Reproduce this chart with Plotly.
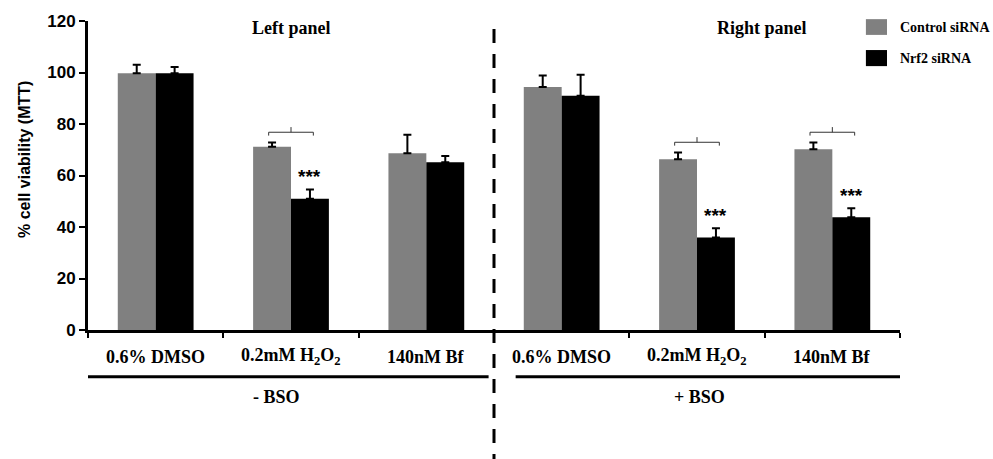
import plotly.graph_objects as go

# ---- data ----
categories = ["0.6% DMSO", "0.2mM H<sub>2</sub>O<sub>2</sub>", "140nM Bf",
              "0.6% DMSO", "0.2mM H<sub>2</sub>O<sub>2</sub>", "140nM Bf"]
groups = ["- BSO", "+ BSO"]
panels = ["Left panel", "Right panel"]
series_names = ["Control siRNA", "Nrf2 siRNA"]
control_vals = [99.7, 71.2, 68.6, 94.4, 66.3, 70.2]
control_err = [3.3, 1.6, 7.2, 4.4, 2.6, 2.6]
nrf2_vals = [99.7, 51.0, 65.1, 91.0, 35.9, 43.8]
nrf2_err = [2.4, 3.6, 2.5, 8.1, 3.6, 3.5]
significant = [False, True, False, False, True, True]
y_ticks = [0, 20, 40, 60, 80, 100, 120]

GRAY = "#808080"
BLACK = "#000000"
SERIF = "Liberation Serif, Times New Roman, serif"
SANS = "Liberation Sans, Arial, sans-serif"

x = list(range(len(categories)))
fig = go.Figure()
for name, vals, errs, col in [(series_names[0], control_vals, control_err, GRAY),
                              (series_names[1], nrf2_vals, nrf2_err, BLACK)]:
    fig.add_trace(go.Bar(
        x=x, y=vals, name=name, marker=dict(color=col, line=dict(width=0)),
        error_y=dict(type="data", symmetric=False, array=errs,
                     arrayminus=[0] * len(errs), color="black",
                     thickness=2, width=4),
        showlegend=False,
    ))

shapes = []
annotations = []

# significance brackets and stars
for i, sig in enumerate(significant):
    if not sig:
        continue
    by = control_vals[i] + control_err[i] + 4
    x0, x1 = i - 0.165, i + 0.165
    shapes.append(dict(type="path", xref="x", yref="y",
                       path=f"M {x0},{by-1.3} L {x0},{by} L {x1},{by} L {x1},{by-1.3} "
                            f"M {i},{by} L {i},{by+2}",
                       line=dict(color="#333333", width=1)))
    sy = nrf2_vals[i] + nrf2_err[i] + 5.0
    annotations.append(dict(x=i + 0.14, y=sy, xref="x", yref="y", text="<b>***</b>",
                            showarrow=False, yanchor="middle",
                            font=dict(family=SANS, size=19, color="black")))

# category labels
for i, c in enumerate(categories):
    annotations.append(dict(x=i, y=-0.087, xref="x", yref="paper", text=f"<b>{c}</b>",
                            showarrow=False, yanchor="middle",
                            font=dict(family=SERIF, size=18, color="black")))

# group lines and labels
group_spans = [(-0.54, 2.46), (2.66, 5.52)]
for g, (a, b) in zip(groups, group_spans):
    shapes.append(dict(type="line", xref="x", yref="paper", x0=a, x1=b,
                       y0=-0.151, y1=-0.151, line=dict(color="black", width=3)))
    annotations.append(dict(x=(a + b) / 2 - 0.07, y=-0.217, xref="x", yref="paper",
                            text=f"<b>{g}</b>", showarrow=False, yanchor="middle",
                            font=dict(family=SERIF, size=18, color="black")))

# panel titles
for p, cx in zip(panels, [1.0, 4.48]):
    annotations.append(dict(x=cx, y=0.977, xref="x", yref="paper", text=f"<b>{p}</b>",
                            showarrow=False, yanchor="middle",
                            font=dict(family=SERIF, size=18, color="black")))

# dashed divider
shapes.append(dict(type="line", xref="x", yref="paper", x0=2.5, x1=2.5,
                   y0=0.974, y1=-0.42, line=dict(color="black", width=3, dash="14px,11px")))

# manual legend
for name, col, (y0, y1) in zip(series_names, [GRAY, BLACK], [(0.955, 1.006), (0.854, 0.906)]):
    shapes.append(dict(type="rect", xref="paper", yref="paper", x0=0.958, x1=0.984,
                       y0=y0, y1=y1, fillcolor=col, line=dict(width=0)))
    annotations.append(dict(x=0.9975, y=(y0 + y1) / 2, xref="paper", yref="paper",
                            xanchor="left", yanchor="middle", text=f"<b>{name}</b>",
                            showarrow=False,
                            font=dict(family=SERIF, size=14, color="black")))

# y axis title
annotations.append(dict(x=-0.079, y=0.553, xref="paper", yref="paper",
                        text="<b>% cell viability (MTT)</b>", textangle=-90,
                        xanchor="center", yanchor="middle",
                        showarrow=False, font=dict(family=SANS, size=16, color="black")))

fig.update_layout(
    width=993, height=459,
    margin=dict(l=88, r=93, t=21, b=129),
    paper_bgcolor="white", plot_bgcolor="white",
    barmode="group", bargap=0.44, bargroupgap=0,
    shapes=shapes, annotations=annotations,
    xaxis=dict(range=[-0.5, 5.5], tickvals=[k - 0.5 for k in range(len(categories) + 1)],
               showticklabels=False, ticks="outside", ticklen=5,
               tickwidth=2, tickcolor="black", showline=True, linecolor="black",
               linewidth=3, showgrid=False, zeroline=False),
    yaxis=dict(range=[0, 120], tickvals=y_ticks, ticks="outside", ticklen=6,
               tickwidth=2, tickcolor="black", showline=True, linecolor="black",
               linewidth=3, showgrid=False, zeroline=False,
               tickfont=dict(family=SANS, size=17, color="black", weight="bold")),
)

fig.write_html("out.html", config={"displayModeBar": False},
               post_script="document.body.style.margin='0';document.body.style.overflow='hidden';")
